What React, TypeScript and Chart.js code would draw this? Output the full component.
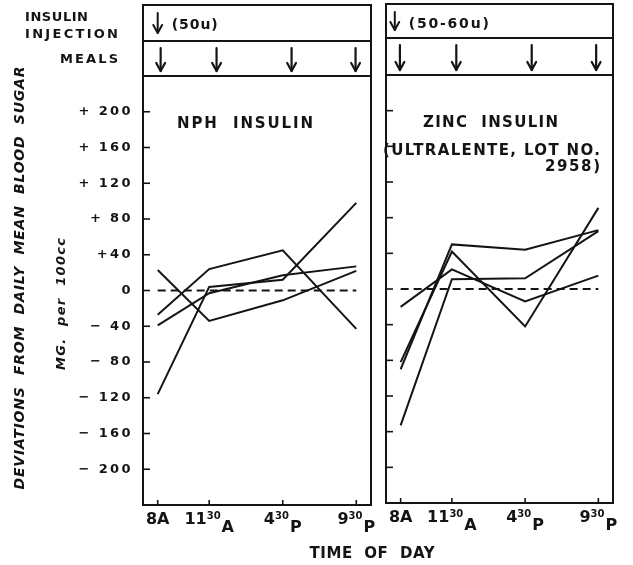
import React, { useEffect, useRef } from "react";
import { Chart, registerables } from "chart.js";

Chart.register(...registerables);

// ---------- data ----------
const xTickValues = [8, 11.5, 16.5, 21.5];
const xTickMain = ["8", "11", "4", "9"];
const xTickSup = ["", "30", "30", "30"];
const xTickSuffix = ["A", "A", "P", "P"];

const yTickValues = [200, 160, 120, 80, 40, 0, -40, -80, -120, -160, -200];
const yTickLabels = ["+ 200", "+ 160", "+ 120", "+ 80", "+40", "0", "− 40", "− 80", "− 120", "− 160", "− 200"];

const nphSeries1 = [23, -34, -11, 22];
const nphSeries2 = [-27, 24, 45, -43];
const nphSeries3 = [-39, -3, 17, 27];
const nphSeries4 = [-116, 4, 12, 98];

const zincSeries1 = [-20, 22, -14, 15];
const zincSeries2 = [-82, 42, -42, 91];
const zincSeries3 = [-90, 50, 44, 66];
const zincSeries4 = [-153, 11, 12, 65];

const baseline = [0, 0, 0, 0];

const nphMealTimes = [8.2, 12.0, 17.1, 21.45];
const zincMealTimes = [7.95, 11.8, 16.95, 21.35];
const nphInjectionTime = 8;
const zincInjectionTime = 7.6;
const nphInjectionLabel = "(50u)";
const zincInjectionLabel = "(50-60u)";

const nphTitle = ["NPH  INSULIN"];
const zincTitle = ["ZINC  INSULIN", "(ULTRALENTE, LOT NO.", "2958)"];

const yTitle = "DEVIATIONS  FROM  DAILY  MEAN  BLOOD  SUGAR";
const yUnits = "MG.  per  100cc";
const xTitle = "TIME  OF  DAY";
const rowLabels = ["INSULIN", "INJECTION", "MEALS"];

// ---------- drawing helpers ----------
const INK = "#141414";
const FONT = "'DejaVu Sans', 'Liberation Sans', sans-serif";

type Align = "left" | "center" | "right";

function drawSpaced(
  ctx: CanvasRenderingContext2D,
  text: string,
  x: number,
  y: number,
  font: string,
  align: Align,
  opts: { spacing?: number; width?: number; baseline?: CanvasTextBaseline } = {}
) {
  ctx.save();
  ctx.font = font;
  ctx.fillStyle = INK;
  (ctx as any).letterSpacing = "0px";
  const w0 = ctx.measureText(text).width;
  const n = Math.max(text.length - 1, 1);
  let sp = opts.spacing ?? 0;
  if (opts.width !== undefined) sp = (opts.width - w0) / n;
  const total = w0 + sp * n;
  (ctx as any).letterSpacing = sp + "px";
  const start = align === "left" ? x : align === "center" ? x - total / 2 : x - total;
  ctx.textAlign = "left";
  ctx.textBaseline = opts.baseline ?? "alphabetic";
  ctx.fillText(text, start, y);
  ctx.restore();
}

function line(ctx: CanvasRenderingContext2D, x1: number, y1: number, x2: number, y2: number) {
  ctx.beginPath();
  ctx.moveTo(x1, y1);
  ctx.lineTo(x2, y2);
  ctx.stroke();
}

function arrow(ctx: CanvasRenderingContext2D, x: number, top: number, bottom: number, head: number, lw: number) {
  ctx.save();
  ctx.strokeStyle = INK;
  ctx.lineWidth = lw;
  ctx.lineCap = "round";
  ctx.lineJoin = "round";
  line(ctx, x, top, x, bottom);
  ctx.beginPath();
  ctx.moveTo(x - head * 0.55, bottom - head);
  ctx.lineTo(x, bottom);
  ctx.lineTo(x + head * 0.55, bottom - head);
  ctx.stroke();
  ctx.restore();
}

type TitleLine = { text: string; x: number; y: number; width: number; align: Align };

type PanelSpec = {
  series: number[][];
  padding: { left: number; right: number; top: number; bottom: number };
  showY: boolean;
  headerTop: number;
  headerDivider: number;
  injectionTime: number;
  injectionLabel: string;
  injectionLabelWidth: number;
  mealTimes: number[];
  titles: TitleLine[];
  extra?: (ctx: CanvasRenderingContext2D, chart: any) => void;
};

function decorPlugin(spec: PanelSpec) {
  return {
    id: "panelDecor",
    beforeDraw(chart: any) {
      (chart.ctx as any).letterSpacing = "2.4px";
    },
    afterDraw(chart: any) {
      const ctx: CanvasRenderingContext2D = chart.ctx;
      const a = chart.chartArea;
      const xs = chart.scales.x;
      const ys = chart.scales.y;
      ctx.save();
      (ctx as any).letterSpacing = "0px";
      ctx.strokeStyle = INK;
      ctx.lineWidth = 2;
      // frame and header rows
      ctx.beginPath();
      ctx.rect(a.left, spec.headerTop, a.right - a.left, a.bottom - spec.headerTop);
      ctx.moveTo(a.left, spec.headerDivider);
      ctx.lineTo(a.right, spec.headerDivider);
      ctx.moveTo(a.left, a.top);
      ctx.lineTo(a.right, a.top);
      ctx.stroke();

      // inward ticks
      ctx.lineWidth = 1.6;
      yTickValues.forEach((v) => {
        const py = ys.getPixelForValue(v);
        line(ctx, a.left, py, a.left + 7, py);
      });
      xTickValues.forEach((v) => {
        const px = xs.getPixelForValue(v);
        line(ctx, px, a.bottom, px, a.bottom - 5);
      });

      // x tick labels with superscripts
      const fMain = `bold 16px ${FONT}`;
      const fSup = `bold 10px ${FONT}`;
      xTickValues.forEach((v, i) => {
        const px = xs.getPixelForValue(v);
        ctx.font = fMain;
        const wm = ctx.measureText(xTickMain[i]).width;
        let ws = 0;
        if (xTickSup[i]) {
          ctx.font = fSup;
          ws = ctx.measureText(xTickSup[i]).width + 1;
        }
        ctx.font = fMain;
        const wf = ctx.measureText(xTickSuffix[i]).width;
        const start = px - (wm + ws + wf) / 2;
        ctx.fillStyle = INK;
        ctx.textAlign = "left";
        ctx.textBaseline = "alphabetic";
        ctx.font = fMain;
        ctx.fillText(xTickMain[i], start, a.bottom + 19);
        if (xTickSup[i]) {
          ctx.font = fSup;
          ctx.fillText(xTickSup[i], start + wm, a.bottom + 14);
          ctx.font = fMain;
          ctx.fillText(xTickSuffix[i], start + wm + ws, a.bottom + 27);
        } else {
          ctx.fillText(xTickSuffix[i], start + wm, a.bottom + 19);
        }
      });

      // injection arrow + dose
      const ix = xs.getPixelForValue(spec.injectionTime);
      arrow(ctx, ix, spec.headerTop + 8, spec.headerDivider - 8, 8, 2);
      drawSpaced(ctx, spec.injectionLabel, ix + 14, spec.headerTop + 24, `bold 14px ${FONT}`, "left", {
        width: spec.injectionLabelWidth,
      });

      // meal arrows
      spec.mealTimes.forEach((t) => {
        const mx = xs.getPixelForValue(t);
        arrow(ctx, mx, spec.headerDivider + 7, a.top - 5, 8, 2.2);
      });

      // panel titles
      spec.titles.forEach((tl) => {
        drawSpaced(ctx, tl.text, tl.x, tl.y, `bold 15px ${FONT}`, tl.align, { width: tl.width });
      });

      if (spec.extra) spec.extra(ctx, chart);
      ctx.restore();
    },
  };
}

function leftExtras(ctx: CanvasRenderingContext2D) {
  // row labels
  const f = `bold 13px ${FONT}`;
  drawSpaced(ctx, rowLabels[0], 25, 21, f, "left", { width: 63 });
  drawSpaced(ctx, rowLabels[1], 25, 38, f, "left", { width: 93 });
  drawSpaced(ctx, rowLabels[2], 118, 63, f, "right", { width: 58 });
  // rotated y titles
  ctx.save();
  ctx.translate(20, 278);
  ctx.rotate(-Math.PI / 2);
  drawSpaced(ctx, yTitle, 0, 0, `italic bold 14px ${FONT}`, "center", { width: 423, baseline: "middle" });
  ctx.restore();
  ctx.save();
  ctx.translate(62, 304);
  ctx.rotate(-Math.PI / 2);
  drawSpaced(ctx, yUnits, 0, 0, `italic bold 13px ${FONT}`, "center", { width: 132, baseline: "middle" });
  ctx.restore();
  // x title
  drawSpaced(ctx, xTitle, 372, 558, `bold 15px ${FONT}`, "center", { width: 125 });
}

function buildConfig(spec: PanelSpec): any {
  const datasets: any[] = spec.series.map((s) => ({
    data: xTickValues.map((x, i) => ({ x, y: s[i] })),
    borderColor: INK,
    borderWidth: 2,
    pointRadius: 0,
    tension: 0,
    fill: false,
  }));
  datasets.push({
    data: xTickValues.map((x, i) => ({ x, y: baseline[i] })),
    borderColor: INK,
    borderWidth: 1.8,
    borderDash: [8, 5],
    pointRadius: 0,
    tension: 0,
    fill: false,
  });
  const yScale: any = {
    type: "linear",
    min: -240,
    max: 240,
    display: spec.showY,
    afterBuildTicks: (s: any) => {
      s.ticks = yTickValues.map((v) => ({ value: v }));
    },
    ticks: {
      callback: (v: number) => {
        const i = yTickValues.indexOf(v);
        return i >= 0 ? yTickLabels[i] : "";
      },
      font: { family: FONT, size: 13, weight: "bold" },
      color: INK,
      padding: 2,
    },
    grid: { display: false },
    border: { display: false },
  };
  if (spec.showY) {
    yScale.afterFit = (s: any) => {
      s.width = 143;
    };
  }
  return {
    type: "line",
    data: { datasets },
    options: {
      animation: false,
      responsive: false,
      devicePixelRatio: 1,
      layout: { padding: spec.padding },
      plugins: { legend: { display: false }, tooltip: { enabled: false }, title: { display: false } },
      scales: {
        x: { type: "linear", min: 7, max: 22.5, display: false },
        y: yScale,
      },
    },
    plugins: [decorPlugin(spec)],
  };
}

const leftSpec: PanelSpec = {
  series: [nphSeries1, nphSeries2, nphSeries3, nphSeries4],
  padding: { left: 0, right: 262, top: 76, bottom: 60 },
  showY: true,
  headerTop: 5,
  headerDivider: 41,
  injectionTime: nphInjectionTime,
  injectionLabel: nphInjectionLabel,
  injectionLabelWidth: 46,
  mealTimes: nphMealTimes,
  titles: [{ text: nphTitle[0], x: 177, y: 128, width: 136, align: "left" }],
  extra: leftExtras,
};

const rightSpec: PanelSpec = {
  series: [zincSeries1, zincSeries2, zincSeries3, zincSeries4],
  padding: { left: 386, right: 20, top: 75, bottom: 62 },
  showY: false,
  headerTop: 4,
  headerDivider: 38,
  injectionTime: zincInjectionTime,
  injectionLabel: zincInjectionLabel,
  injectionLabelWidth: 80,
  mealTimes: zincMealTimes,
  titles: [
    { text: zincTitle[0], x: 423, y: 127, width: 135, align: "left" },
    { text: zincTitle[1], x: 383, y: 155, width: 217, align: "left" },
    { text: zincTitle[2], x: 600, y: 171, width: 55, align: "right" },
  ],
};

function Panel({ spec }: { spec: PanelSpec }) {
  const ref = useRef<HTMLCanvasElement | null>(null);
  useEffect(() => {
    if (!ref.current) return;
    const chart = new Chart(ref.current, buildConfig(spec));
    return () => chart.destroy();
  }, [spec]);
  return (
    <canvas
      ref={ref}
      width={633}
      height={565}
      style={{ position: "absolute", left: 0, top: 0, width: 633, height: 565 }}
    />
  );
}

export default function App() {
  return (
    <div style={{ position: "fixed", left: 0, top: 0, width: 633, height: 565, background: "#fff" }}>
      <Panel spec={leftSpec} />
      <Panel spec={rightSpec} />
    </div>
  );
}
